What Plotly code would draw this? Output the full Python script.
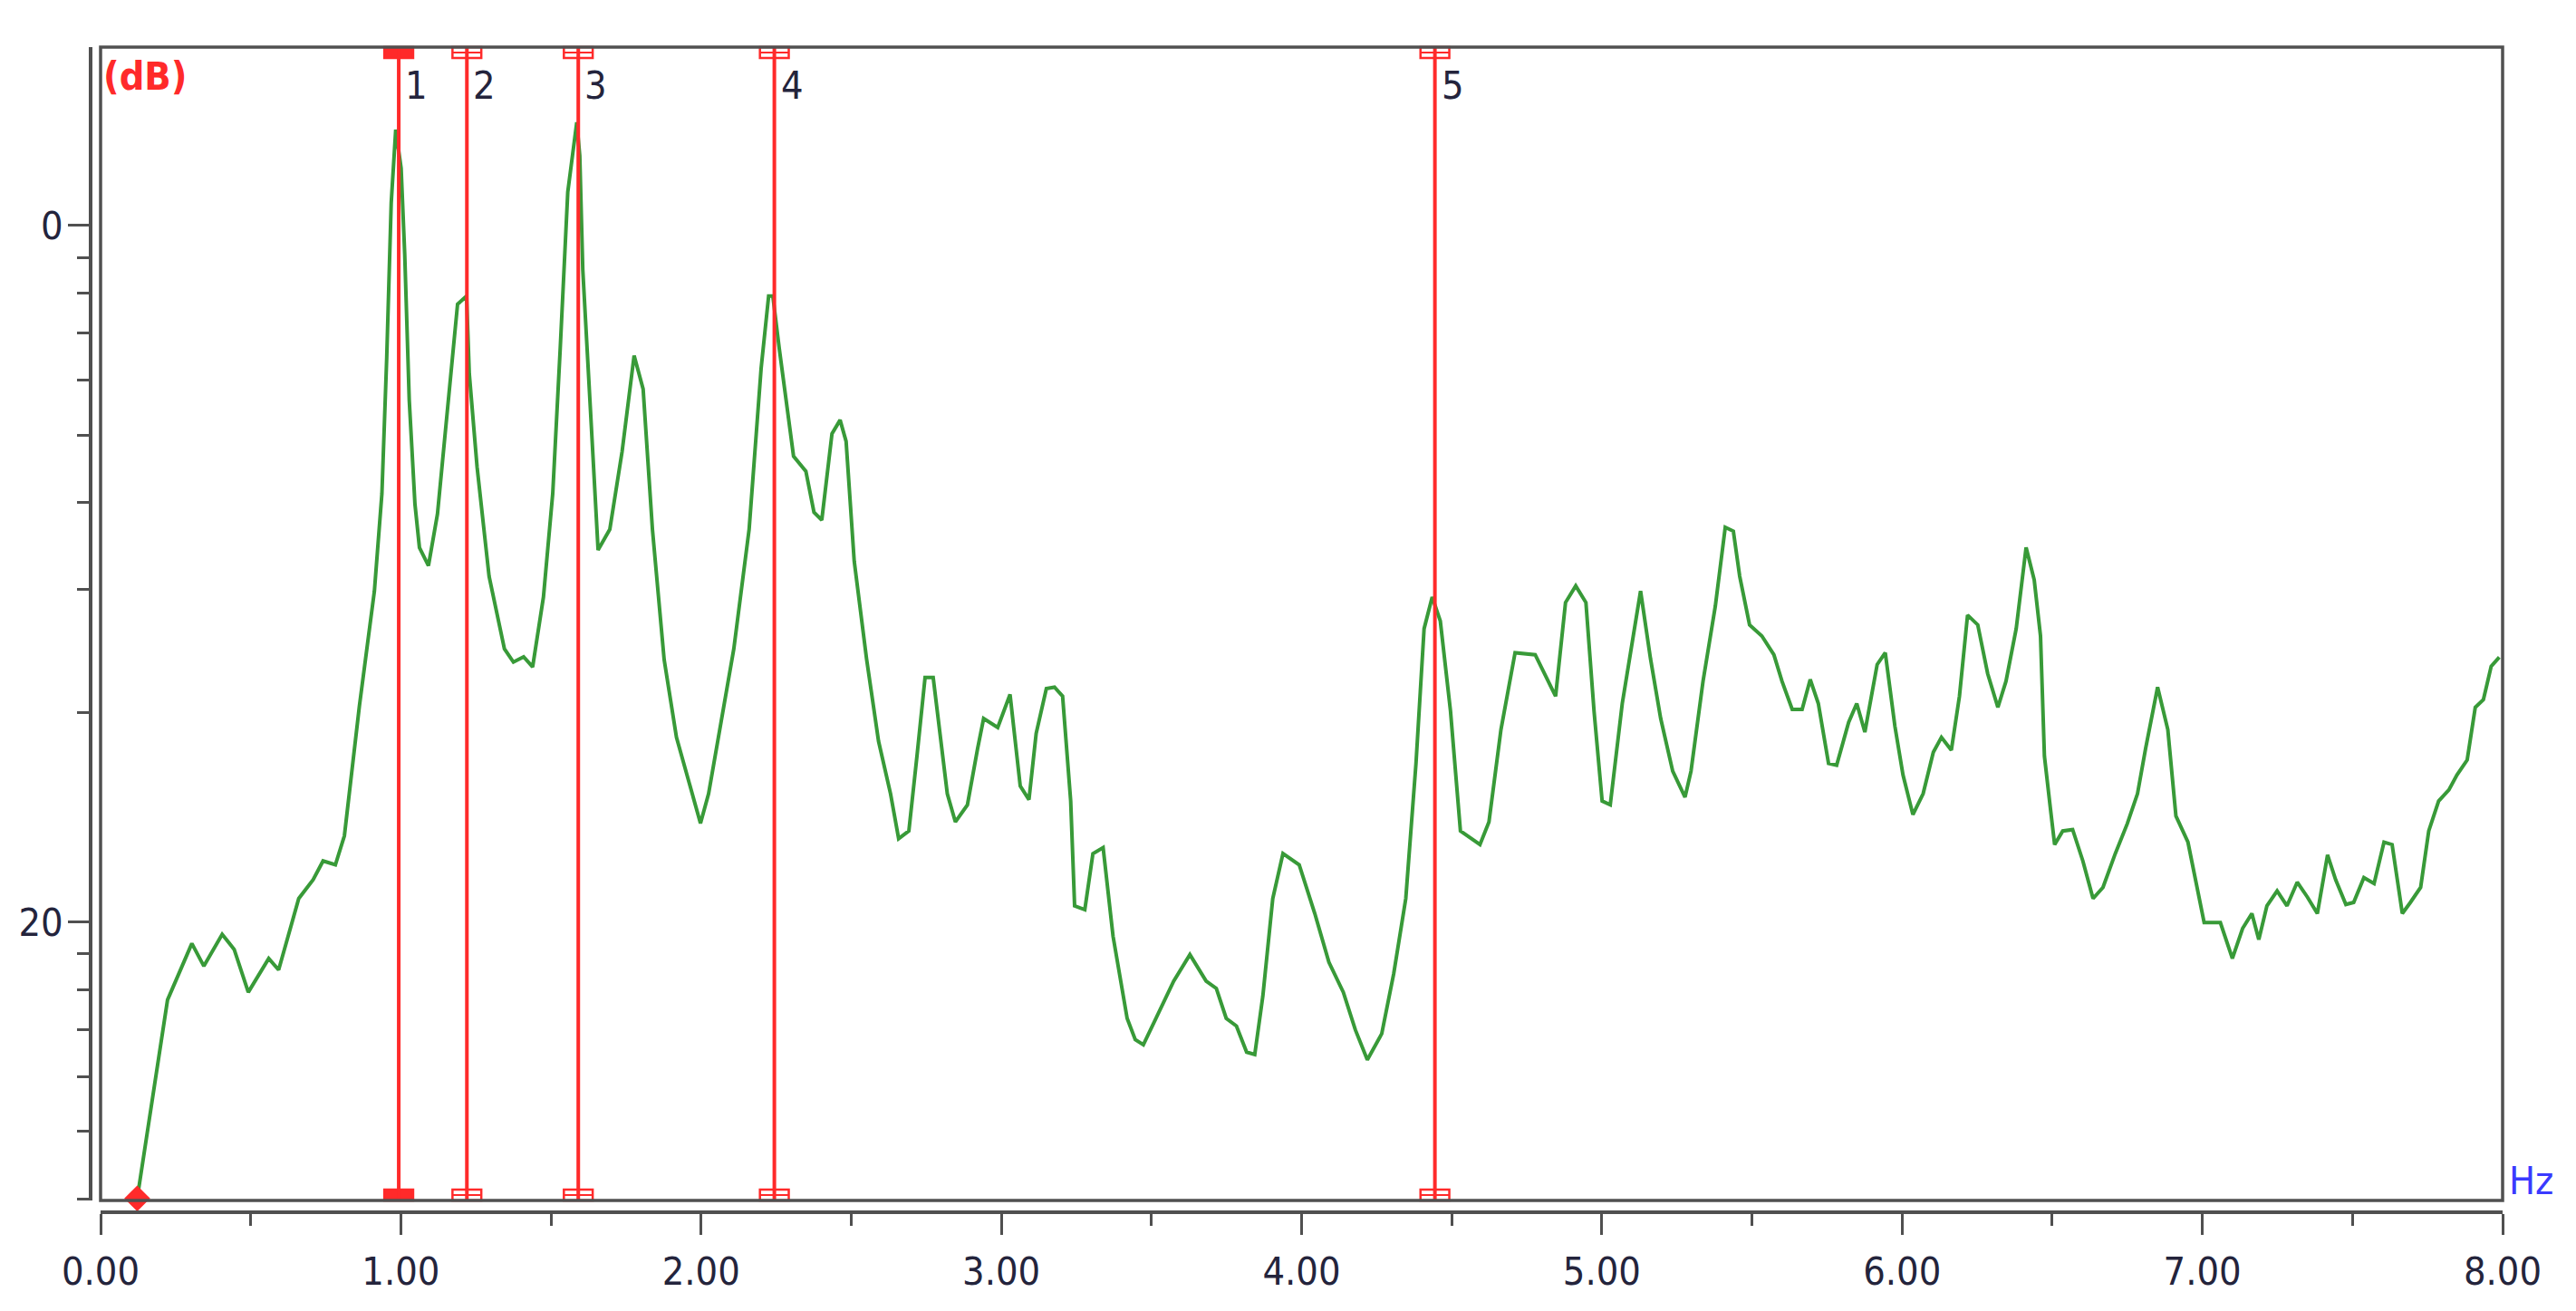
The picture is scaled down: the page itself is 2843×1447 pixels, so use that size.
import plotly.graph_objects as go

# ---------------- data ----------------
freq_hz = [0.122, 0.223, 0.304, 0.344, 0.405, 0.445, 0.492, 0.560, 0.593, 0.660,
           0.708, 0.741, 0.782, 0.812, 0.862, 0.912, 0.937, 0.953, 0.968, 0.983,
           1.001, 1.013, 1.028, 1.047, 1.062, 1.092, 1.122, 1.153, 1.189, 1.219,
           1.228, 1.254, 1.294, 1.345, 1.375, 1.409, 1.439, 1.475, 1.506, 1.531,
           1.556, 1.586, 1.596, 1.606, 1.636, 1.657, 1.696, 1.737, 1.777, 1.807,
           1.838, 1.877, 1.918, 1.998, 2.025, 2.049, 2.109, 2.160, 2.200, 2.225,
           2.239, 2.260, 2.281, 2.308, 2.349, 2.376, 2.402, 2.436,
           2.463, 2.483, 2.510, 2.551, 2.591, 2.631, 2.658, 2.692, 2.719, 2.746,
           2.773, 2.793, 2.820, 2.847, 2.887, 2.921, 2.941, 2.988, 3.029, 3.063,
           3.092, 3.116, 3.150, 3.177, 3.204, 3.231, 3.244, 3.278, 3.305, 3.339,
           3.372, 3.419, 3.446, 3.473, 3.520, 3.574, 3.628, 3.682, 3.716, 3.749,
           3.783, 3.817, 3.844, 3.871, 3.904, 3.938, 3.992, 4.044, 4.091, 4.139,
           4.179, 4.219, 4.267, 4.307, 4.347, 4.381, 4.408, 4.435, 4.462, 4.496,
           4.529, 4.556, 4.594, 4.624, 4.664, 4.711, 4.778, 4.846, 4.879, 4.913,
           4.947, 4.974, 5.001, 5.028, 5.068, 5.129, 5.162, 5.196, 5.236, 5.277,
           5.297, 5.337, 5.378, 5.411, 5.438, 5.459, 5.492, 5.533, 5.573, 5.600,
           5.634, 5.667, 5.694, 5.721, 5.755, 5.782, 5.822, 5.849, 5.876, 5.917,
           5.944, 5.976, 6.003, 6.036, 6.070, 6.104, 6.131, 6.164, 6.191, 6.218,
           6.252, 6.285, 6.319, 6.346, 6.380, 6.413, 6.440, 6.461, 6.474, 6.494,
           6.508, 6.535, 6.568, 6.602, 6.636, 6.669, 6.710, 6.750, 6.784, 6.811,
           6.851, 6.885, 6.912, 6.952, 6.979, 7.006, 7.060, 7.100, 7.134, 7.165,
           7.188, 7.215, 7.249, 7.282, 7.316, 7.350, 7.383, 7.417, 7.444, 7.478,
           7.504, 7.538, 7.572, 7.605, 7.632, 7.666, 7.693, 7.727, 7.754, 7.787,
           7.821, 7.848, 7.882, 7.909, 7.936, 7.962, 7.989]

level_db = [27.94, 22.24, 20.62, 21.27, 20.36, 20.79, 22.02, 21.05, 21.38, 19.33,
            18.79, 18.25, 18.36, 17.53, 13.80, 10.50, 7.70, 3.80, -0.65, -2.75,
            -1.64, 0.83, 5.01, 8.00, 9.25, 9.77, 8.29, 5.45, 2.26, 2.03,
            4.26, 6.94, 10.08, 12.16, 12.54, 12.39, 12.68, 10.67, 7.69, 3.51,
            -0.96, -2.96, -2.00, 1.27, 6.05, 9.32, 8.73, 6.49, 3.74, 4.70,
            8.73, 12.47, 14.70, 17.17, 16.32, 15.14, 12.16, 8.73, 4.10, 2.03,
            2.03, 3.51, 4.90, 6.63, 7.06, 8.24, 8.46, 5.98,
            5.59, 6.20, 9.64, 12.44, 14.81, 16.32, 17.61, 17.39, 15.24, 12.98,
            12.98, 14.38, 16.32, 17.13, 16.64, 15.02, 14.16, 14.42, 13.47, 16.10,
            16.49, 14.59, 13.30, 13.26, 13.52, 16.53, 19.54, 19.65, 18.04, 17.87,
            20.41, 22.77, 23.38, 23.53, 22.67, 21.70, 20.94, 21.70, 21.91, 22.77,
            22.99, 23.74, 23.81, 22.13, 19.33, 18.04, 18.36, 19.76, 21.16, 22.02,
            23.10, 23.96, 23.21, 21.48, 19.33, 15.45, 11.58, 10.67, 11.36, 13.95,
            17.39, 17.56, 17.78, 17.13, 14.48, 12.27, 12.33, 13.52, 10.83, 10.35,
            10.83, 13.95, 16.53, 16.64, 13.73, 10.50, 12.44, 14.16, 15.67, 16.42,
            15.67, 13.09, 10.93, 8.67, 8.78, 10.07, 11.47, 11.79, 12.33, 13.09,
            13.90, 13.90, 13.04, 13.73, 15.45, 15.50, 14.27, 13.73, 14.55, 12.61,
            12.27, 14.38, 15.78, 16.92, 16.32, 15.13, 14.70, 15.07, 13.52, 11.19,
            11.47, 12.87, 13.84, 13.09, 11.58, 9.25, 10.18, 11.79, 15.24, 16.75,
            17.78, 17.39, 17.35, 18.25, 19.33, 19.01, 18.04, 17.18, 16.32, 15.02,
            13.26, 14.48, 16.96, 17.71, 18.90, 20.02, 20.02, 21.05, 20.19, 19.76,
            20.51, 19.54, 19.11, 19.54, 18.86, 19.29, 19.76, 18.08, 18.79, 19.50,
            19.44, 18.73, 18.90, 17.71, 17.78, 19.76, 19.44, 19.01, 17.39, 16.53,
            16.21, 15.78, 15.35, 13.84, 13.62, 12.66, 12.40]

marker_hz = [0.993, 1.220, 1.591, 2.244, 4.444]
marker_labels = ["1", "2", "3", "4", "5"]
active_marker = 0

x_tickvals = [0, 1, 2, 3, 4, 5, 6, 7, 8]
x_minor_ticks = [0.5, 1.5, 2.5, 3.5, 4.5, 5.5, 6.5, 7.5]
y_tickvals = [0, 20]
y_ticktext = ["0", "20"]
y_minor_ticks = [0.92, 1.94, 3.10, 4.44, 6.02, 7.96, 10.46, 13.98,
                 20.92, 21.94, 23.10, 24.44, 26.02, 27.96]

# ---------------- styling ----------------
OFF = 8                      # default <body> margin of the html page
SW, SH = 2843, 1447          # screenshot size
W, H = SW - 2 * OFF, SH - 2 * OFF
FONT = "DejaVu Sans Condensed, Liberation Sans Narrow, DejaVu Sans"
FS = 43
TXT = "#24243c"
AX = "#505050"
RED = "#ff2a2a"
GREEN = "#389a38"

# target screen positions (px) of the plot frame and the offset axes
PL, PR, PT, PB = 111, 2762, 52, 1325
XAX_Y, YAX_X = 1338, 100

ML = 96 - OFF
MR = SW - PR - OFF
MT = PT - OFF
MB = SH - 1342 - OFF
pw = W - ML - MR
ph = H - MT - MB
bottom_px = H - MB              # figure-space y of paper bottom
x_dom0 = (PL - OFF - ML) / pw
y_dom0 = (bottom_px - (PB - OFF)) / ph
x_axis_pos = (bottom_px - (XAX_Y - OFF)) / ph
y_axis_pos = (YAX_X - OFF - ML) / pw

fig = go.Figure()

fig.add_trace(go.Scatter(
    x=freq_hz, y=level_db, mode="lines",
    line=dict(color=GREEN, width=4),
    hoverinfo="skip", showlegend=False,
))

# start-of-trace diamond
fig.add_trace(go.Scatter(
    x=[freq_hz[0]], y=[level_db[0]], mode="markers",
    marker=dict(symbol="diamond", size=22, color=RED, line=dict(width=0)),
    hoverinfo="skip", showlegend=False, cliponaxis=False,
))

shapes = []
cap_half = 0.048
cap_h = 0.0095
for i, m in enumerate(marker_hz):
    filled = (i == active_marker)
    for (ya, yb) in [(1 - cap_h, 1), (0, cap_h)]:
        shapes.append(dict(type="rect", xref="x", yref="y domain",
                           x0=m - cap_half, x1=m + cap_half, y0=ya, y1=yb,
                           line=dict(color=RED, width=2.5),
                           fillcolor=RED if filled else "white", layer="above"))
        if not filled:
            shapes.append(dict(type="line", xref="x", yref="y domain",
                               x0=m - cap_half, x1=m + cap_half,
                               y0=(ya + yb) / 2, y1=(ya + yb) / 2,
                               line=dict(color=RED, width=2), layer="above"))
    shapes.append(dict(type="line", xref="x", yref="y domain",
                       x0=m, x1=m, y0=0, y1=1,
                       line=dict(color=RED, width=4), layer="above"))

# plot border
shapes.append(dict(type="rect", xref="x domain", yref="y domain",
                   x0=0, x1=1, y0=0, y1=1,
                   line=dict(color=AX, width=3.5), fillcolor="rgba(0,0,0,0)",
                   layer="above"))

annotations = []
for m, lab in zip(marker_hz, marker_labels):
    annotations.append(dict(x=m, y=0.967, xref="x", yref="y domain",
                            text=lab, showarrow=False, xanchor="left",
                            yanchor="middle", xshift=5,
                            font=dict(family=FONT, size=FS, color=TXT)))
annotations.append(dict(x=0, y=0.975, xref="x domain", yref="y domain",
                        text="<b>(dB)</b>", showarrow=False, xanchor="left",
                        yanchor="middle", xshift=1,
                        font=dict(family=FONT, size=FS, color=RED)))
annotations.append(dict(x=1, y=0.017, xref="x domain", yref="y domain",
                        text="Hz", showarrow=False, xanchor="left",
                        yanchor="middle", xshift=5,
                        font=dict(family=FONT, size=FS, color="#3a3aff")))

fig.update_layout(
    width=W, height=H,
    margin=dict(l=ML, r=MR, t=MT, b=MB, pad=0),
    paper_bgcolor="white", plot_bgcolor="white",
    showlegend=False,
    shapes=shapes, annotations=annotations,
    font=dict(family=FONT, size=FS, color=TXT),
    xaxis=dict(
        domain=[x_dom0, 1], anchor="free", position=x_axis_pos,
        range=[0, 8], tickmode="array", tickvals=x_tickvals,
        tickformat=".2f", ticks="outside", ticklen=23, tickwidth=3,
        tickcolor=AX, showline=True, linecolor=AX, linewidth=3.5,
        showgrid=False, zeroline=False, ticklabelstandoff=4,
        tickfont=dict(family=FONT, size=FS, color=TXT),
        minor=dict(tickmode="array", tickvals=x_minor_ticks,
                   ticks="outside", ticklen=13, tickwidth=3, tickcolor=AX,
                   showgrid=False),
    ),
    yaxis=dict(
        domain=[y_dom0, 1], anchor="free", position=y_axis_pos,
        range=[28.0, -5.12], tickmode="array", tickvals=y_tickvals,
        ticktext=y_ticktext, ticks="outside", ticklen=23, tickwidth=3,
        tickcolor=AX, showline=True, linecolor=AX, linewidth=3.5,
        showgrid=False, zeroline=False, ticklabelstandoff=-3,
        tickfont=dict(family=FONT, size=FS, color=TXT),
        minor=dict(tickmode="array", tickvals=y_minor_ticks,
                   ticks="outside", ticklen=13, tickwidth=3, tickcolor=AX,
                   showgrid=False),
    ),
)

fig.write_html("out.html")
